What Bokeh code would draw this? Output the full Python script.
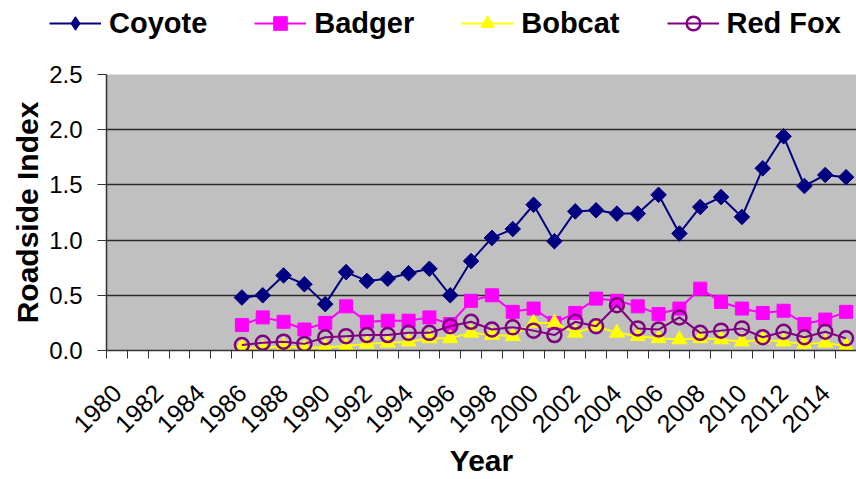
from math import pi
from bokeh.plotting import figure
from bokeh.layouts import column, row
from bokeh.models import (Range1d, FixedTicker, Legend, LegendItem,
                          NumeralTickFormatter, ColumnDataSource)
from bokeh.embed import file_html
from bokeh.resources import INLINE

# ---------------- data ----------------
years = list(range(1986, 2016))
coyote = [0.48, 0.50, 0.68, 0.60, 0.42, 0.71, 0.63, 0.65, 0.70, 0.74,
          0.50, 0.81, 1.02, 1.10, 1.32, 0.99, 1.26, 1.27, 1.24, 1.24,
          1.41, 1.06, 1.30, 1.39, 1.21, 1.65, 1.94, 1.49, 1.59, 1.57]
badger = [0.23, 0.30, 0.26, 0.19, 0.25, 0.40, 0.26, 0.27, 0.27, 0.30,
          0.24, 0.45, 0.50, 0.35, 0.38, 0.25, 0.34, 0.47, 0.45, 0.40,
          0.33, 0.38, 0.56, 0.44, 0.38, 0.34, 0.36, 0.24, 0.28, 0.35]
bobcat = [0.03, 0.02, 0.04, 0.02, 0.03, 0.04, 0.06, 0.07, 0.08, 0.11,
          0.11, 0.16, 0.14, 0.13, 0.25, 0.25, 0.16, 0.22, 0.16, 0.13,
          0.11, 0.10, 0.11, 0.10, 0.08, 0.10, 0.08, 0.06, 0.07, 0.04]
red_fox = [0.05, 0.07, 0.08, 0.06, 0.12, 0.13, 0.14, 0.14, 0.16, 0.16,
           0.22, 0.26, 0.19, 0.21, 0.18, 0.14, 0.26, 0.22, 0.41, 0.20,
           0.19, 0.30, 0.16, 0.18, 0.20, 0.12, 0.17, 0.12, 0.17, 0.11]

series_names = ["Coyote", "Badger", "Bobcat", "Red Fox"]
series_keys = ["coyote", "badger", "bobcat", "red_fox"]

first_year, last_year = 1980, 2015
label_years = list(range(1980, 2016, 2))
y_ticks = [0.0, 0.5, 1.0, 1.5, 2.0, 2.5]
grid_values = [0.5, 1.0, 1.5, 2.0, 2.5]

FONT = "Liberation Sans"
STYLES = {
    "coyote": dict(color="#000080", marker="square", angle=pi / 4, size=11,
                   fill="#000080", lw=1),
    "badger": dict(color="#FF00FF", marker="square", angle=0, size=13,
                   fill="#FF00FF", lw=1),
    "bobcat": dict(color="#FFFF00", marker="triangle", angle=0, size=15,
                   fill="#FFFF00", lw=1),
    "red_fox": dict(color="#800080", marker="circle", angle=0, size=14,
                    fill=None, lw=2.5),
}

src = ColumnDataSource(dict(year=years, coyote=coyote, badger=badger,
                            bobcat=bobcat, red_fox=red_fox))


def add_series(fig, legend_shapes=False):
    rs = []
    for key in series_keys:
        st = STYLES[key]
        marker = st["marker"]
        angle = st["angle"]
        if legend_shapes and key == "coyote":
            marker, angle = "diamond", 0   # legend glyphs ignore rotation
        ln = fig.line("year", key, source=src, line_color=st["color"], line_width=2)
        pt = fig.scatter("year", key, source=src, marker=marker,
                         angle=angle, size=st["size"],
                         fill_color=st["fill"], line_color=st["color"],
                         line_width=st["lw"])
        rs.append((ln, pt))
    return rs


# ---------------- main chart ----------------
p = figure(width=856, height=419, output_backend="svg", toolbar_location=None,
           x_range=Range1d(first_year - 0.5, last_year + 0.5),
           y_range=Range1d(0, 2.5),
           min_border_left=106, min_border_right=0, min_border_top=14,
           min_border_bottom=121)
p.background_fill_color = "#C0C0C0"
p.border_fill_color = "white"
p.outline_line_color = None
p.xgrid.visible = False
p.ygrid.ticker = FixedTicker(ticks=grid_values)
p.ygrid.grid_line_color = "#2a2a2a"
p.ygrid.grid_line_width = 1.5

yax = p.yaxis[0]
yax.ticker = FixedTicker(ticks=y_ticks, minor_ticks=[])
yax.formatter = NumeralTickFormatter(format="0.0")
yax.major_label_text_font = FONT
yax.major_label_text_font_size = "24px"
yax.major_label_text_color = "black"
yax.major_label_standoff = 15
yax.major_tick_out = 9
yax.major_tick_in = 0
yax.major_tick_line_color = "#333333"
yax.axis_line_color = "#333333"
yax.axis_line_width = 1.5
yax.axis_label = "Roadside Index"
yax.axis_label_text_font = FONT
yax.axis_label_text_font_size = "30px"
yax.axis_label_text_font_style = "bold"
yax.axis_label_text_color = "black"
yax.axis_label_standoff = 2

xax = p.xaxis[0]
xax.ticker = FixedTicker(ticks=label_years,
                         minor_ticks=[y - 0.5 for y in range(first_year, last_year + 2)])
xax.major_tick_line_color = None
xax.major_tick_out = 8
xax.major_tick_in = 0
xax.minor_tick_out = 8
xax.minor_tick_in = 0
xax.minor_tick_line_color = "#333333"
xax.minor_tick_line_width = 1
xax.axis_line_color = "#333333"
xax.axis_line_width = 1.5
xax.major_label_orientation = pi / 4
xax.major_label_text_font = FONT
xax.major_label_text_font_size = "25px"
xax.major_label_text_color = "black"
xax.major_label_standoff = 30
xax.axis_label = "Year"
xax.axis_label_text_font = FONT
xax.axis_label_text_font_size = "30px"
xax.axis_label_text_font_style = "bold"
xax.axis_label_text_color = "black"
xax.axis_label_standoff = 0

add_series(p)

# ---------------- legend strip ----------------
lf = figure(width=856, height=60, output_backend="svg", toolbar_location=None,
            x_axis_location=None, y_axis_location=None,
            x_range=Range1d(0, 1), y_range=Range1d(0, 1),
            min_border_left=0, min_border_right=0, min_border_top=0,
            min_border_bottom=0)
lf.outline_line_color = None
lf.grid.visible = False
lf.background_fill_color = "white"
lf.border_fill_color = "white"
leg_rs = add_series(lf, legend_shapes=True)   # outside this strip's ranges; legend glyphs only

legend = Legend(items=[LegendItem(label=name, renderers=list(rs))
                       for name, rs in zip(series_names, leg_rs)],
                orientation="horizontal", location=(49, 20))
legend.label_text_font = FONT
legend.label_text_font_size = "29px"
legend.label_text_font_style = "bold"
legend.label_text_color = "black"
legend.glyph_width = 52
legend.glyph_height = 34
legend.label_standoff = 8
legend.spacing = 47
legend.padding = 0
legend.margin = 0
legend.border_line_color = None
legend.background_fill_alpha = 0
lf.add_layout(legend, "center")

layout = column(row(lf), p, spacing=0)
open("out.html", "w").write(file_html(layout, INLINE))
